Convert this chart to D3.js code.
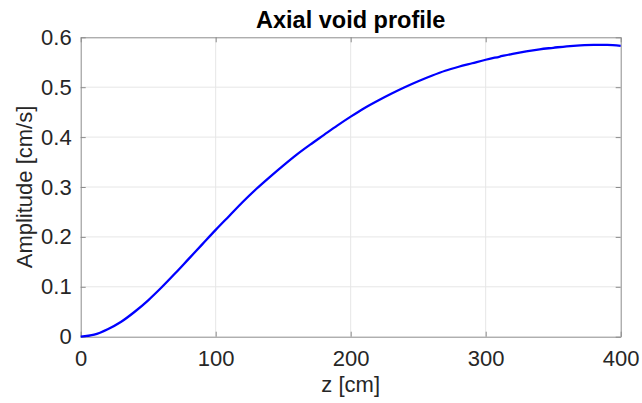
<!DOCTYPE html>
<html><head><meta charset="utf-8">
<script src="https://cdn.jsdelivr.net/npm/d3@7"></script>
<style>body{margin:0;background:#fff}svg{display:block}</style>
</head><body><svg id="c" width="642" height="403"></svg>
<script>
const zValues = [0,10,20,30,40,50,60,70,80,90,100,110,120,130,140,150,160,170,180,190,200,210,220,230,240,250,260,270,280,290,300,310,320,330,340,350,360,370,380,390,400];
const amplitude = [0,0.004,0.015,0.030,0.050,0.073,0.099,0.127,0.156,0.185,0.214,0.242,0.270,0.296,0.320,0.343,0.365,0.385,0.404,0.423,0.441,0.458,0.473,0.487,0.500,0.512,0.523,0.533,0.541,0.548,0.555,0.561,0.567,0.572,0.576,0.579,0.582,0.584,0.585,0.585,0.583];
const xTicks = [0,100,200,300,400];
const yTicks = [0,0.1,0.2,0.3,0.4,0.5,0.6];
const title = "Axial void profile";
const xLabel = "z [cm]";
const yLabel = "Amplitude [cm/s]";

const svg = d3.select("#c");
const L=80.7,R=620.7,T=37.3,B=336.7;
const x = d3.scaleLinear().domain([0,400]).range([L,R]);
const y = d3.scaleLinear().domain([0,0.6]).range([B,T]);
const font = "'Liberation Sans', Arial, Helvetica, sans-serif";
const txt = "#262626";

// grid
svg.append("g").selectAll("line").data(xTicks.slice(1,-1)).join("line")
  .attr("x1",d=>x(d)).attr("x2",d=>x(d)).attr("y1",T).attr("y2",B)
  .attr("stroke","#e6e6e6").attr("stroke-width",1);
svg.append("g").selectAll("line").data(yTicks.slice(1,-1)).join("line")
  .attr("y1",d=>y(d)).attr("y2",d=>y(d)).attr("x1",L).attr("x2",R)
  .attr("stroke","#e6e6e6").attr("stroke-width",1);

// axes with inward ticks
const ax = svg.append("g").attr("transform",`translate(0,${B})`)
  .call(d3.axisBottom(x).tickValues(xTicks).tickSizeInner(-5).tickSizeOuter(0).tickPadding(14).tickFormat(d3.format("d")));
const ay = svg.append("g").attr("transform",`translate(${L},0)`)
  .call(d3.axisLeft(y).tickValues(yTicks).tickSizeInner(-5).tickSizeOuter(0).tickPadding(9).tickFormat(d=>d===0?"0":d3.format(".1f")(d)));
const axt = svg.append("g").attr("transform",`translate(0,${T})`)
  .call(d3.axisTop(x).tickValues(xTicks).tickSizeInner(-5).tickSizeOuter(0).tickFormat(""));
const ayr = svg.append("g").attr("transform",`translate(${R},0)`)
  .call(d3.axisRight(y).tickValues(yTicks).tickSizeInner(-5).tickSizeOuter(0).tickFormat(""));
[ax,ay,axt,ayr].forEach(g=>{
  g.select(".domain").attr("stroke","#8c8c8c");
  g.selectAll(".tick line").attr("stroke","#8c8c8c");
  g.selectAll(".tick text").attr("fill",txt).style("font-family",font).style("font-size","22px");
});

// curve
const line = d3.line().x((d,i)=>x(zValues[i])).y(d=>y(d)).curve(d3.curveMonotoneX);
svg.append("path").datum(amplitude).attr("d",line)
  .attr("fill","none").attr("stroke","#0000ff").attr("stroke-width",2.3);

// labels
svg.append("text").attr("x",(L+R)/2).attr("y",28).attr("text-anchor","middle")
  .style("font-family",font).style("font-size","23.5px").style("font-weight","bold").attr("fill","#000").text(title);
svg.append("text").attr("x",(L+R)/2).attr("y",392).attr("text-anchor","middle")
  .style("font-family",font).style("font-size","22px").attr("fill",txt).text(xLabel);
svg.append("text").attr("transform",`translate(31.5,${(T+B)/2}) rotate(-90)`).attr("text-anchor","middle")
  .style("font-family",font).style("font-size","22px").attr("fill",txt).text(yLabel);
</script></body></html>
